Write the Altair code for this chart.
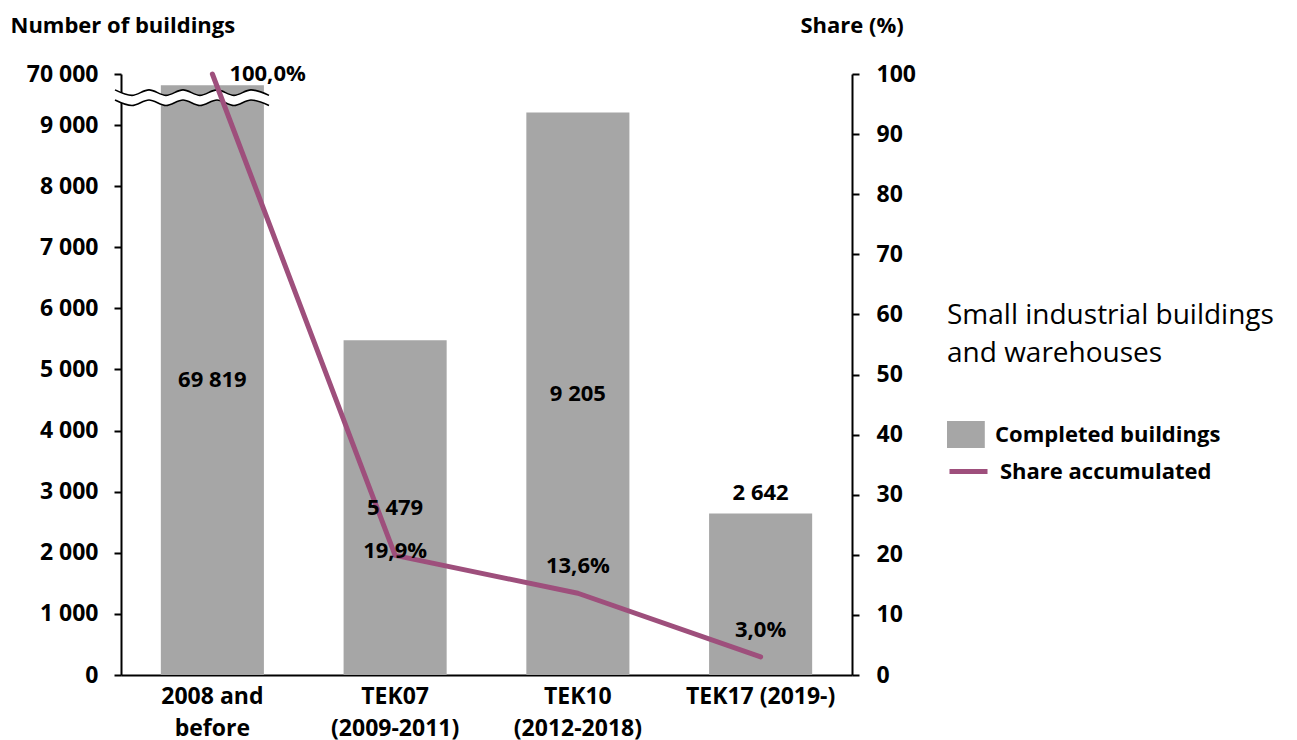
import altair as alt
import pandas as pd

# ---------------- data ----------------
categories = ["2008 and before", "TEK07 (2009-2011)", "TEK10 (2012-2018)", "TEK17 (2019-)"]
completed = [69819, 5479, 9205, 2642]
share = [100.0, 19.9, 13.6, 3.0]

left_tick_values = [0, 1000, 2000, 3000, 4000, 5000, 6000, 7000, 8000, 9000]
break_label = "70 000"
share_tick_values = [0, 10, 20, 30, 40, 50, 60, 70, 80, 90, 100]

AXIS_TOP = 9835   # top of the broken left axis, labelled "70 000"
BAR_CAP = 9650    # drawn height of the bar that is cut by the axis break

# axis-break squiggles (decoration)
wave_x = [-6, 11, 28, 45, 62, 79, 96, 113, 130, 148]
wave_sign = [1, -1, 1, -1, 1, -1, 1, -1, 1, -1]
wave_upper_center = 9530
wave_lower_center = 9365
wave_amp = 45

GRAY = "#A6A6A6"
PURPLE = "#9E4F7C"
FONT = "Open Sans"

# ---------------- frames ----------------
df = pd.DataFrame({"category": categories, "completed": completed, "share": share})
df["display"] = [min(v, BAR_CAP) for v in completed]
df["count_label"] = [f"{v:,}".replace(",", " ") for v in completed]
df["share_label"] = [f"{v:.1f}".replace(".", ",") + "%" for v in share]
df["series_bar"] = "Completed buildings"
df["series_line"] = "Share accumulated"
df["idx"] = list(range(len(categories)))

wave_band = pd.DataFrame({
    "wx": wave_x,
    "up": [wave_upper_center + wave_amp * s for s in wave_sign],
    "lo": [wave_lower_center + wave_amp * s for s in wave_sign],
})
wave_lines = pd.concat([
    pd.DataFrame({"wx": wave_x, "wy": [wave_upper_center + wave_amp * s for s in wave_sign], "which": "upper"}),
    pd.DataFrame({"wx": wave_x, "wy": [wave_lower_center + wave_amp * s for s in wave_sign], "which": "lower"}),
])

# ---------------- encodings ----------------
x_enc = alt.X(
    "category:N",
    sort=categories,
    title=None,
    scale=alt.Scale(paddingInner=0.436, paddingOuter=0.218),
    axis=alt.Axis(
        labelExpr="datum.label == '2008 and before' ? ['2008 and', 'before'] : "
                  "(datum.label == 'TEK17 (2019-)' ? datum.label : split(datum.label, ' '))",
        labelAngle=0,
        labelFont=FONT, labelFontSize=23, labelFontWeight="bold", labelColor="black",
        labelLineHeight=32, labelPadding=10, labelBaseline="top",
        ticks=False, domainColor="black", domainWidth=2,
        labelLimit=300,
    ),
)

count_scale = alt.Scale(domain=[0, AXIS_TOP], nice=False, zero=True)

left_axis = alt.Axis(
    values=left_tick_values + [AXIS_TOP],
    labelExpr=f"datum.value > 9500 ? '{break_label}' : replace(format(datum.value, ','), ',', ' ')",
    title="Number of buildings",
    titleAngle=0, titleAlign="left", titleBaseline="middle",
    titleX=-111, titleY=-49,
    titleFont=FONT, titleFontSize=22, titleFontWeight="bold", titleColor="black",
    labelFont=FONT, labelFontSize=23, labelFontWeight="bold", labelColor="black",
    labelPadding=16, tickSize=7, tickColor="black", tickWidth=2,
    domainColor="black", domainWidth=2, grid=False,
)

bars = alt.Chart(df).mark_bar(opacity=1).encode(
    x=x_enc,
    y=alt.Y("display:Q", scale=count_scale, axis=left_axis),
    fill=alt.Fill(
        "series_bar:N",
        scale=alt.Scale(domain=["Completed buildings"], range=[GRAY]),
        legend=alt.Legend(
            orient="none", legendX=826, legendY=228,
            title=["Small industrial buildings", "and warehouses"],
            titleFont=FONT, titleFontSize=28, titleFontWeight="normal", titleColor="black",
            titleLineHeight=38, titlePadding=53, titleLimit=500,
            labelFont=FONT, labelFontSize=22, labelFontWeight="bold", labelColor="black",
            labelLimit=400, labelOffset=21,
            symbolType="M-1,-1H1.8V1H-1Z", symbolSize=729, symbolStrokeWidth=0,
            symbolOpacity=1,
        ),
    ),
)

band = alt.Chart(wave_band).mark_area(color="white", interpolate="monotone", opacity=1).encode(
    x=alt.X("wx:Q", scale=None, axis=None),
    y=alt.Y("up:Q", scale=count_scale),
    y2="lo:Q",
)

squiggles = alt.Chart(wave_lines).mark_line(color="black", strokeWidth=1.6, interpolate="monotone").encode(
    x=alt.X("wx:Q", scale=None, axis=None),
    y=alt.Y("wy:Q", scale=count_scale),
    detail="which:N",
)

count_group = alt.layer(bars, band, squiggles)

share_scale = alt.Scale(domain=[0, 100], nice=False)

right_axis = alt.Axis(
    orient="right",
    values=share_tick_values,
    format="d",
    title="Share (%)",
    titleAngle=0, titleAlign="left", titleBaseline="middle",
    titleX=-52, titleY=-49,
    titleFont=FONT, titleFontSize=22, titleFontWeight="bold", titleColor="black",
    labelFont=FONT, labelFontSize=23, labelFontWeight="bold", labelColor="black",
    labelPadding=17, tickSize=7, tickColor="black", tickWidth=2,
    domainColor="black", domainWidth=2, grid=False,
)

line = alt.Chart(df).mark_line(strokeWidth=5, strokeCap="round", strokeJoin="round").encode(
    x=x_enc,
    y=alt.Y("share:Q", scale=share_scale, axis=right_axis),
    stroke=alt.Stroke(
        "series_line:N",
        scale=alt.Scale(domain=["Share accumulated"], range=[PURPLE]),
        legend=alt.Legend(
            orient="none", legendX=826, legendY=376,
            title=None,
            labelFont=FONT, labelFontSize=22, labelFontWeight="bold", labelColor="black",
            labelLimit=400, labelOffset=10,
            symbolType="stroke", symbolSize=1444, symbolStrokeWidth=5,
        ),
    ),
)

share_text_first = alt.Chart(df).transform_filter("datum.idx == 0").mark_text(
    font=FONT, fontSize=22, fontWeight="bold", color="black", align="left", baseline="middle", dx=17
).encode(
    x=x_enc,
    y=alt.Y("share:Q", scale=share_scale),
    text="share_label:N",
)

share_text_second = alt.Chart(df).transform_filter("datum.idx == 1").mark_text(
    font=FONT, fontSize=22, fontWeight="bold", color="black", baseline="middle", dy=-4
).encode(
    x=x_enc,
    y=alt.Y("share:Q", scale=share_scale),
    text="share_label:N",
)

share_text_rest = alt.Chart(df).transform_filter("datum.idx >= 2").mark_text(
    font=FONT, fontSize=22, fontWeight="bold", color="black", baseline="middle", dy=-27
).encode(
    x=x_enc,
    y=alt.Y("share:Q", scale=share_scale),
    text="share_label:N",
)

share_group = alt.layer(line, share_text_first, share_text_second, share_text_rest)

# bar value labels, drawn on top of the line (same count scale, no axis)
bar_text_inside = alt.Chart(df).transform_filter("datum.display >= 4000").transform_calculate(
    mid="datum.display / 2"
).mark_text(font=FONT, fontSize=22, fontWeight="bold", color="black", baseline="middle").encode(
    x=x_enc,
    y=alt.Y("mid:Q", scale=count_scale, axis=None),
    text="count_label:N",
)

bar_text_above = alt.Chart(df).transform_filter("datum.display < 4000").mark_text(
    font=FONT, fontSize=22, fontWeight="bold", color="black", baseline="middle", dy=-21
).encode(
    x=x_enc,
    y=alt.Y("display:Q", scale=count_scale, axis=None),
    text="count_label:N",
)

text_group = alt.layer(bar_text_inside, bar_text_above)

chart = alt.layer(count_group, share_group, text_group).resolve_scale(
    y="independent", fill="independent", stroke="independent"
).properties(
    width=731, height=601,
    padding={"left": 2, "top": 6, "right": 5, "bottom": 2},
).configure(font=FONT).configure_view(stroke=None)

chart.save("out.html", embed_options={"renderer": "svg", "actions": False})
